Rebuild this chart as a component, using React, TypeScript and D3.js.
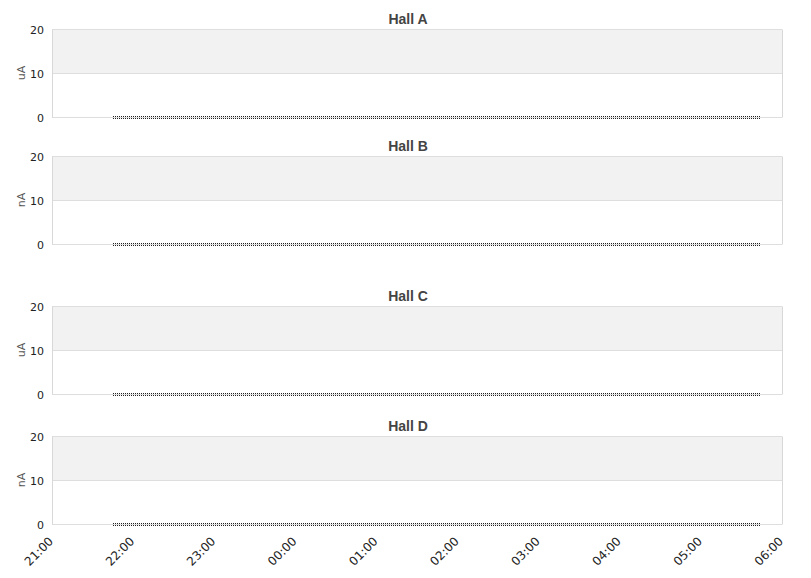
import { useEffect, useRef } from "react";
import * as d3 from "d3";

// panels, top to bottom
const halls = ["Hall A", "Hall B", "Hall C", "Hall D"];
const units = ["uA", "nA", "uA", "nA"];
const yTicks = [0, 10, 20];

// beam current readings (all zero during the shown window)
const readingTimes = ["2024-01-01T21:45", "2024-01-02T05:44"];
const readingValues = [
  [0, 0],
  [0, 0],
  [0, 0],
  [0, 0],
];

const W = 811;
const H = 578;

export default function App() {
  const svgRef = useRef<SVGSVGElement>(null);

  useEffect(() => {
    if (!svgRef.current) return;
    const svg = d3.select(svgRef.current);
    svg.selectAll("*").remove();

    const left = 52;
    const right = 782;
    const plotH = 88;
    const tops = [29, 156, 306, 436];

    const x = d3
      .scaleTime()
      .domain([new Date("2024-01-01T21:00"), new Date("2024-01-02T06:00")])
      .range([left, right]);

    halls.forEach((name, i) => {
      const top = tops[i];
      const y = d3.scaleLinear().domain([0, 20]).range([top + plotH, top]);
      const g = svg.append("g");

      // alternating band
      g.append("rect")
        .attr("x", left)
        .attr("y", y(20))
        .attr("width", right - left)
        .attr("height", y(10) - y(20))
        .attr("fill", "#f2f2f2");

      // grid lines
      g.selectAll(".grid")
        .data(yTicks)
        .enter()
        .append("line")
        .attr("x1", left)
        .attr("x2", right)
        .attr("y1", (d) => Math.round(y(d)) + 0.5)
        .attr("y2", (d) => Math.round(y(d)) + 0.5)
        .attr("stroke", "#dedede");

      // frame sides
      [left, right].forEach((xx) => {
        g.append("line")
          .attr("x1", xx + 0.5)
          .attr("x2", xx + 0.5)
          .attr("y1", top + 0.5)
          .attr("y2", top + plotH + 0.5)
          .attr("stroke", "#d8d8d8");
      });

      // tick labels
      g.selectAll(".yt")
        .data(yTicks)
        .enter()
        .append("text")
        .attr("x", 44)
        .attr("y", (d) => y(d) + 5)
        .attr("text-anchor", "end")
        .attr("font-family", "DejaVu Sans")
        .attr("font-size", 11)
        .attr("fill", "#222")
        .text((d) => d);

      g.append("text")
        .attr("transform", `translate(25,${top + plotH / 2}) rotate(-90)`)
        .attr("text-anchor", "middle")
        .attr("font-family", "DejaVu Sans")
        .attr("font-size", 11)
        .attr("fill", "#555")
        .text(units[i]);

      g.append("text")
        .attr("x", 408)
        .attr("y", top - 5)
        .attr("text-anchor", "middle")
        .attr("font-family", "Liberation Sans, Arial, sans-serif")
        .attr("font-weight", "bold")
        .attr("font-size", 14)
        .attr("fill", "#444")
        .text(name);

      const pts = readingTimes.map((t, k) => ({ t: new Date(t), v: readingValues[i][k] }));
      const line = d3
        .line<{ t: Date; v: number }>()
        .x((d) => Math.round(x(d.t)))
        .y((d) => Math.round(y(d.v)) + 0.5);

      [-1, 1].forEach((off) => {
        g.append("path")
          .datum(pts)
          .attr("d", line)
          .attr("transform", `translate(0,${off})`)
          .attr("fill", "none")
          .attr("stroke", "#222")
          .attr("stroke-width", 1)
          .attr("shape-rendering", "crispEdges")
          .attr("stroke-dasharray", "1 1");
      });
    });

    // time axis labels
    const xt = x.ticks(d3.timeHour.every(1)!);
    const fmt = d3.timeFormat("%H:%M");
    svg
      .append("g")
      .selectAll("text")
      .data(xt)
      .enter()
      .append("text")
      .attr("transform", (d) => `translate(${x(d) + 2},${tops[3] + plotH + 18}) rotate(-45)`)
      .attr("text-anchor", "end")
      .attr("font-family", "DejaVu Sans")
      .attr("font-size", 12)
      .attr("fill", "#222")
      .text((d) => fmt(d));
  }, []);

  return (
    <div style={{ position: "fixed", left: 0, top: 0, width: W, height: H, background: "#fff" }}>
      <svg ref={svgRef} width={W} height={H} style={{ display: "block" }} />
    </div>
  );
}
